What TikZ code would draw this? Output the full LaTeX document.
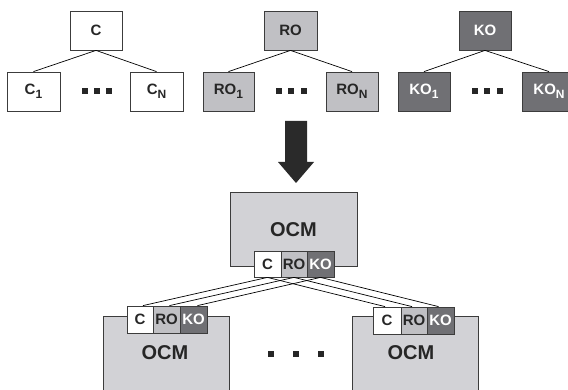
\documentclass[tikz,border=0pt]{standalone}
\usepackage{fontspec}
\setmainfont{Liberation Sans}
\definecolor{rogray}{RGB}{192,192,196}
\definecolor{kogray}{RGB}{112,112,116}
\definecolor{ocmgray}{RGB}{210,210,214}
\definecolor{edgegray}{RGB}{60,60,60}
\definecolor{arrowgray}{RGB}{42,42,42}
\tikzset{
  box/.style={draw=edgegray, line width=0.8pt, inner sep=0pt, rectangle,
    font=\fontsize{15}{15}\selectfont\bfseries},
  cbox/.style={box, fill=white, text=black!85},
  robox/.style={box, fill=rogray, text=black!85},
  kobox/.style={box, fill=kogray, text=white},
  bigbox/.style={box, fill=ocmgray},
  ocmlabel/.style={font=\fontsize{20}{20}\selectfont\bfseries, text=black!85, inner sep=0pt},
  link/.style={draw=black, line width=0.7pt},
  dotsq/.style={fill=black!85, draw=none, minimum size=6pt, inner sep=0pt, rectangle},
}
\newcommand{\subl}[1]{\raisebox{-4pt}{\fontsize{12}{12}\selectfont #1}}
\begin{document}
\begin{tikzpicture}[x=1pt,y=-1pt]
\useasboundingbox (0,0) rectangle (568,390);
\clip (0,0) rectangle (568,390);

% top trees
\node[cbox, minimum width=52pt, minimum height=39pt] (C) at (96,30.5) {C};
\node[cbox, minimum width=53pt, minimum height=39pt] (C1) at (33.5,91.5) {C\subl{1}};
\node[cbox, minimum width=53pt, minimum height=39pt] (CN) at (156.5,91.5) {C\subl{N}};
\node[robox, minimum width=53pt, minimum height=39pt] (RO) at (290.5,30.5) {RO};
\node[robox, minimum width=51pt, minimum height=39pt] (RO1) at (228.5,91.5) {RO\subl{1}};
\node[robox, minimum width=52pt, minimum height=39pt] (RON) at (352,91.5) {RO\subl{N}};
\node[kobox, minimum width=52pt, minimum height=39pt] (KO) at (485,30.5) {KO};
\node[kobox, minimum width=52pt, minimum height=39pt] (KO1) at (424,91.5) {KO\subl{1}};
\node[kobox, minimum width=54pt, minimum height=39pt] (KON) at (549,91.5) {KO\subl{N}};

\draw[link] (C.south) -- (C1.north);
\draw[link] (C.south) -- (CN.north);
\draw[link] (RO.south) -- (RO1.north);
\draw[link] (RO.south) -- (RON.north);
\draw[link] (KO.south) -- (KO1.north);
\draw[link] (KO.south) -- (KON.north);

% dots top
\node[dotsq] (d1) at (84.5,91.5) {};
\node[dotsq] (d2) at (96.5,91.5) {};
\node[dotsq] (d3) at (108.5,91.5) {};
\node[dotsq] (d4) at (279,91.5) {};
\node[dotsq] (d5) at (291,91.5) {};
\node[dotsq] (d6) at (303.5,91.5) {};
\node[dotsq] (d7) at (474.5,91.5) {};
\node[dotsq] (d8) at (487,91.5) {};
\node[dotsq] (d9) at (499.5,91.5) {};

% block arrow
\fill[arrowgray] (285,121) -- (307,121) -- (307,162) -- (314,162) -- (296,183)
  -- (278,162) -- (285,162) -- cycle;

% top OCM
\node[bigbox, minimum width=127pt, minimum height=74pt] (tOCM) at (293.5,229) {};
\node[ocmlabel] (tOCMl) at (293.5,230) {OCM};

% bottom OCMs
\node[bigbox, minimum width=126pt, minimum height=90pt] (lOCM) at (166,361) {};
\node[ocmlabel] (lOCMl) at (165,353) {OCM};
\node[bigbox, minimum width=126pt, minimum height=90pt] (rOCM) at (415,361) {};
\node[ocmlabel] (rOCMl) at (411,353) {OCM};

% sub boxes top
\node[cbox, minimum width=27pt, minimum height=26pt] (tC) at (267.5,264) {C};
\node[robox, minimum width=26pt, minimum height=26pt] (tRO) at (294,264) {RO};
\node[kobox, minimum width=27pt, minimum height=26pt] (tKO) at (320.5,264) {KO};
% sub boxes left
\node[cbox, minimum width=26pt, minimum height=27pt] (lC) at (140,319.5) {C};
\node[robox, minimum width=27pt, minimum height=27pt] (lRO) at (166.5,319.5) {RO};
\node[kobox, minimum width=27pt, minimum height=27pt] (lKO) at (193.5,319.5) {KO};
% sub boxes right
\node[cbox, minimum width=28pt, minimum height=27pt] (rC) at (387,320.5) {C};
\node[robox, minimum width=26pt, minimum height=27pt] (rRO) at (414,320.5) {RO};
\node[kobox, minimum width=27pt, minimum height=27pt] (rKO) at (440.5,320.5) {KO};

% dots bottom
\node[dotsq] (e1) at (271,354) {};
\node[dotsq] (e2) at (296,354) {};
\node[dotsq] (e3) at (321,354) {};

% links between OCMs
\draw[link] (tC.south) -- ([xshift=3pt]lC.north);
\draw[link] (tRO.south) -- ([xshift=3pt]lRO.north);
\draw[link] (tKO.south) -- ([xshift=4pt]lKO.north);
\draw[link] (tC.south) -- ([xshift=-2pt]rC.north);
\draw[link] (tRO.south) -- ([xshift=-2pt]rRO.north);
\draw[link] (tKO.south) -- ([xshift=-2pt]rKO.north);
\end{tikzpicture}
\end{document}
